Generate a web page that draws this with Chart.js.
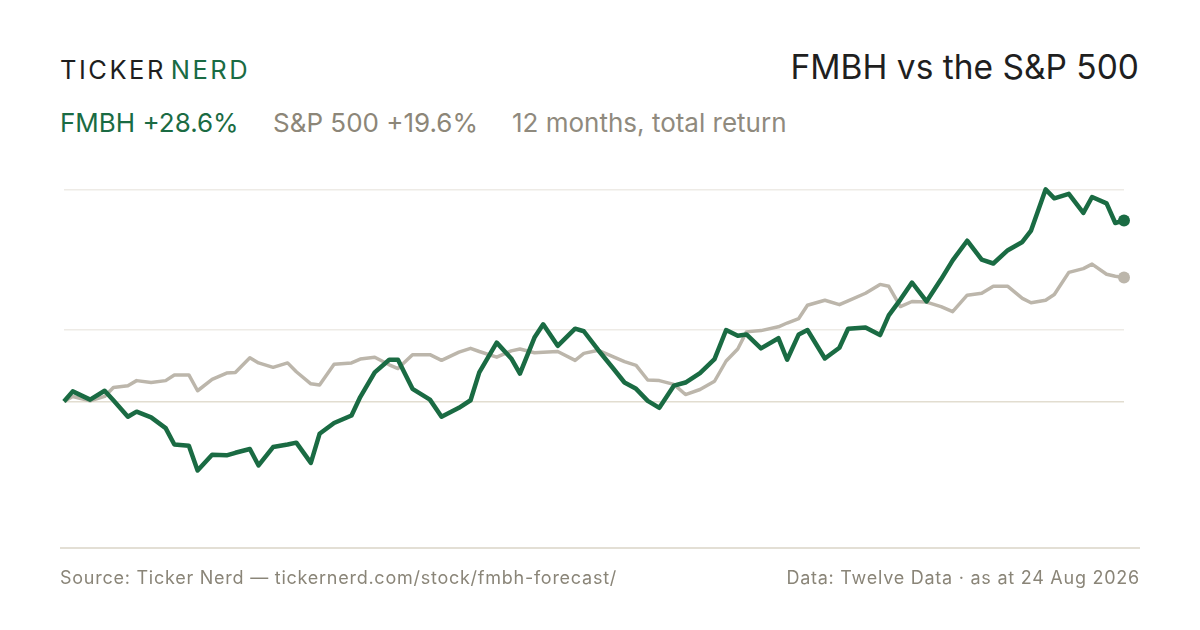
<!DOCTYPE html>
<html>
<head>
<meta charset="utf-8">
<script src="https://cdn.jsdelivr.net/npm/chart.js@4.4.1/dist/chart.umd.min.js"></script>
<style>
  html, body { margin: 0; padding: 0; background: #fff; }
  body { width: 1200px; height: 630px; position: relative; overflow: hidden; font-family: Inter, "Noto Sans", sans-serif; }
  #wrap { position: absolute; left: 0; top: 0; width: 1200px; height: 630px; }
  .txt { position: absolute; white-space: nowrap; }
  .brand { left: 60px; top: 55px; font-size: 25.5px; line-height: 30px; letter-spacing: 2.5px; color: #1e1e1e; }
  .brand span { color: #1a6b43; margin-left: 5px; }
  .title { right: 61px; top: 47px; font-size: 33.5px; line-height: 40px; color: #1f1f1f; }
  .sub { top: 107px; font-size: 26px; line-height: 32px; }
  .foot { top: 566px; font-size: 18px; line-height: 24px; letter-spacing: 0.75px; color: #8a8578; }
  #rule { position: absolute; left: 60px; top: 547px; width: 1080px; height: 2px; background: #e3dfd5; }
</style>
</head>
<body>
<div class="txt brand">TICKER<span>NERD</span></div>
<div class="txt title">FMBH vs the S&amp;P 500</div>
<div class="txt sub" style="left:60px;color:#1a6b43">FMBH +28.6%</div>
<div class="txt sub" style="left:273px;color:#8c8678">S&amp;P 500 +19.6%</div>
<div class="txt sub" style="left:512px;color:#8f8a7e">12 months, total return</div>
<div id="wrap"><canvas id="chart" width="1200" height="630"></canvas></div>
<div id="rule"></div>
<div class="txt foot" style="left:60px">Source: Ticker Nerd — tickernerd.com/stock/fmbh-forecast/</div>
<div class="txt foot" style="right:60px;letter-spacing:0.75px">Data: Twelve Data · as at 24 Aug 2026</div>
<script>
// calendar days since start of the 12 month window
const days = [0,3,9,14,17,22,25,30,35,38,43,46,51,56,59,64,67,72,77,80,85,88,93,99,102,107,112,115,120,126,130,136,140,143,149,154,157,162,165,170,176,179,184,189,193,197,201,205,210,214,219,224,228,232,235,240,246,249,253,256,262,267,270,276,281,284,288,292,297,302,306,311,316,320,325,330,333,338,341,346,351,354,359,362,365];

// total return, %
const fmbh = [0,1.6,0.3,1.7,0.2,-2.4,-1.6,-2.5,-4.2,-6.8,-7.0,-10.9,-8.4,-8.5,-8.1,-7.5,-10.1,-7.2,-6.8,-6.5,-9.7,-5.1,-3.4,-2.2,0.7,4.6,6.6,6.6,2.0,0.3,-2.4,-1.0,0.2,4.6,9.3,6.8,4.4,10.1,12.2,8.8,11.5,11.1,8.1,5.3,3.0,2.0,0.1,-1.0,2.5,3.0,4.5,6.7,11.3,10.4,10.6,8.4,10.0,6.6,10.6,11.3,6.8,8.5,11.5,11.7,10.5,13.6,16.1,18.8,15.8,19.3,22.3,25.4,22.4,21.8,23.9,25.2,27.0,33.5,32.1,32.8,29.8,32.3,31.3,28.2,28.6];
const spx = [0,0.8,0.1,0.8,2.2,2.5,3.3,3.0,3.3,4.2,4.2,1.7,3.5,4.5,4.6,6.9,6.1,5.4,6.1,4.7,2.8,2.6,5.9,6.1,6.7,7.0,5.8,5.2,7.4,7.4,6.5,7.8,8.4,7.9,7.0,8.0,8.3,7.7,7.8,7.9,6.5,7.6,8.1,7.1,6.3,5.7,3.4,3.3,2.7,1.1,1.9,3.2,6.4,8.3,11.0,11.2,11.8,12.4,13.1,15.2,16.0,15.3,15.9,17.1,18.5,18.2,15.0,15.8,15.7,15.0,14.2,16.8,17.1,18.2,18.2,16.3,15.6,16.0,16.9,20.4,21.0,21.7,20.1,19.8,19.6];

// unlabelled guide lines (zero line drawn darker)
const gridValues = [0, 11.3, 33.5];

const toPoints = arr => arr.map((v, i) => ({ x: days[i], y: v }));
const lastDot = r => ctx => ctx.dataIndex === days.length - 1 ? r : 0;

const chart = new Chart(document.getElementById('chart'), {
    type: 'line',
    data: {
        datasets: [{
            label: 'FMBH',
            data: toPoints(fmbh),
            borderColor: '#1a6b43',
            backgroundColor: '#1a6b43',
            borderWidth: 4.5,
            borderJoinStyle: 'round',
            pointRadius: lastDot(6),
            pointHoverRadius: 0,
            pointBorderWidth: 0,
            tension: 0,
            clip: false
        }, {
            label: 'S&P 500',
            data: toPoints(spx),
            borderColor: '#bcb6ab',
            backgroundColor: '#bcb6ab',
            borderWidth: 3.5,
            borderJoinStyle: 'round',
            pointRadius: lastDot(6),
            pointHoverRadius: 0,
            pointBorderWidth: 0,
            tension: 0,
            clip: false
        }]
    },
    options: {
        responsive: false,
        animation: false,
        events: [],
        layout: { padding: { left: 64, right: 76, top: 150, bottom: 82 } },
        plugins: { legend: { display: false }, tooltip: { enabled: false } },
        scales: {
            x: { type: 'linear', min: 0, max: 365, display: false },
            y: {
                min: -23.14,
                max: 39.73,
                afterBuildTicks: axis => { axis.ticks = gridValues.map(v => ({ value: v })); },
                ticks: { display: false },
                border: { display: false },
                grid: {
                    drawTicks: false,
                    lineWidth: 1.5,
                    color: c => c.tick && c.tick.value === 0 ? '#e2ddd0' : '#eeebe6'
                }
            }
        }
    }
});
</script>
</body>
</html>
